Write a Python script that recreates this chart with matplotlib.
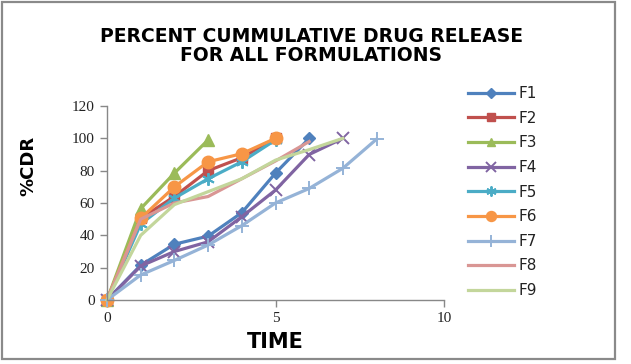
"""Percent cumulative drug release for all formulations."""
import matplotlib
matplotlib.use("Agg")
import matplotlib.pyplot as plt
from matplotlib.patches import Rectangle

# time points and %CDR per formulation
f1_t = [0, 1, 2, 3, 4, 5, 6]
f1 = [0, 21.5, 34.5, 39.5, 54, 78.5, 100]
f2_t = [0, 1, 2, 3, 4, 5]
f2 = [0, 50.5, 64, 80, 88, 100]
f3_t = [0, 1, 2, 3]
f3 = [0, 56.5, 78.5, 99]
f4_t = [0, 1, 2, 3, 4, 5, 6, 7]
f4 = [0, 21, 30, 36, 51.5, 68, 90, 100]
f5_t = [0, 1, 2, 3, 4, 5]
f5 = [0, 47, 63, 75, 85.5, 99]
f6_t = [0, 1, 2, 3, 4, 5]
f6 = [0, 50.5, 70, 85.5, 90.5, 100]
f7_t = [0, 1, 2, 3, 4, 5, 6, 7, 8]
f7 = [0, 15.5, 24.5, 34, 46, 60, 69, 81.5, 99.5]
f8_t = [0, 1, 2, 3, 4, 5, 6]
f8 = [0, 50, 60, 64, 75, 86, 98]
f9_t = [0, 1, 2, 3, 4, 5, 6, 7]
f9 = [0, 40, 59, 67, 75, 86.5, 93, 100]

labels = ["F1", "F2", "F3", "F4", "F5", "F6", "F7", "F8", "F9"]
times = [f1_t, f2_t, f3_t, f4_t, f5_t, f6_t, f7_t, f8_t, f9_t]
values = [f1, f2, f3, f4, f5, f6, f7, f8, f9]

colors = ["#4F81BD", "#C0504D", "#9BBB59", "#8064A2", "#4BACC6",
          "#F79646", "#95B3D7", "#D99694", "#C3D69B"]
markers = ["D", "s", "^", "x", (6, 2, 0), "o", "+", None, None]
msizes = [6.5, 7, 8, 9, 9, 9, 10, 0, 0]

W, H = 631, 364
fig = plt.figure(figsize=(W / 100, H / 100), dpi=100, facecolor="white")
fig.patches.append(Rectangle((2 / W, 5 / H), 613 / W, 357 / H,
                             transform=fig.transFigure, fill=False,
                             edgecolor="#8a8a8a", linewidth=1.6))

ax = fig.add_axes([107 / W, 1 - 300 / H, 337 / W, 194 / H])
for t, v, c, m, ms, lab in zip(times, values, colors, markers, msizes, labels):
    ax.plot(t, v, color=c, marker=m, markersize=ms, linewidth=2.3,
            markeredgewidth=1.4 if m in ("x", "+", (6, 2, 0)) else 1.0,
            markeredgecolor=c, solid_joinstyle="round", clip_on=False,
            label=lab)

ax.set_xlim(0, 10)
ax.set_ylim(0, 120)
ax.set_xticks([0, 5, 10])
ax.set_yticks(range(0, 121, 20))
for s in ("top", "right"):
    ax.spines[s].set_visible(False)
for s in ("left", "bottom"):
    ax.spines[s].set_color("#888888")
    ax.spines[s].set_linewidth(1.0)
ax.tick_params(direction="out", length=5, width=1, color="#888888",
               labelsize=11, labelcolor="#222222", pad=4)
for lbl in ax.get_xticklabels() + ax.get_yticklabels():
    lbl.set_family("Liberation Serif")

fig.text(311 / W, 1 - 46 / H,
         "PERCENT CUMMULATIVE DRUG RELEASE\nFOR ALL FORMULATIONS",
         ha="center", va="center", fontsize=13.5, fontweight="bold",
         linespacing=0.95, family="DejaVu Sans")
fig.text(275 / W, 1 - 342 / H, "TIME", ha="center", va="center",
         fontsize=15, fontweight="bold", family="DejaVu Sans")
fig.text(28 / W, 1 - 166 / H, "%CDR", ha="center", va="center",
         rotation=90, fontsize=13, fontweight="bold", family="DejaVu Sans")

leg = fig.legend(loc="upper left", bbox_to_anchor=(462 / W, 1 - 80 / H),
                 frameon=False, fontsize=11, handlelength=3.0,
                 labelspacing=0.63, handletextpad=0.3, borderaxespad=0,
                 markerscale=0.8)
for line in leg.get_lines():
    line.set_linewidth(2.3)
for txt in leg.get_texts():
    txt.set_color("#222222")

fig.savefig("out.png", dpi=100, facecolor="white")
